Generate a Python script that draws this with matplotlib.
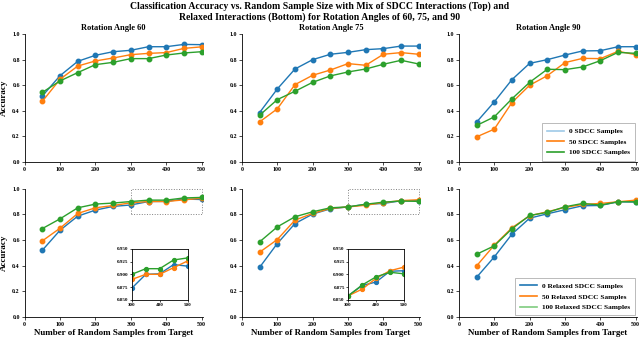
import matplotlib
matplotlib.use("Agg")
import matplotlib.pyplot as plt
from matplotlib.patches import Rectangle
from matplotlib.lines import Line2D

plt.rcParams['font.family'] = ['Liberation Serif', 'DejaVu Serif']
plt.rcParams['font.weight'] = 'bold'

x = [50, 100, 150, 200, 250, 300, 350, 400, 450, 500]
angles = ["60", "75", "90"]

# Top row: mix of SDCC interactions
top_0 = {
    "60": [0.517, 0.675, 0.787, 0.834, 0.862, 0.873, 0.901, 0.901, 0.919, 0.917],
    "75": [0.387, 0.571, 0.727, 0.800, 0.842, 0.857, 0.878, 0.886, 0.906, 0.906],
    "90": [0.312, 0.470, 0.644, 0.771, 0.800, 0.836, 0.868, 0.870, 0.901, 0.901],
}
top_50 = {
    "60": [0.475, 0.647, 0.750, 0.790, 0.813, 0.839, 0.849, 0.855, 0.888, 0.900],
    "75": [0.314, 0.416, 0.605, 0.678, 0.719, 0.769, 0.756, 0.842, 0.855, 0.842],
    "90": [0.197, 0.257, 0.465, 0.600, 0.675, 0.777, 0.810, 0.808, 0.865, 0.839],
}
top_100 = {
    "60": [0.545, 0.634, 0.699, 0.761, 0.779, 0.808, 0.808, 0.836, 0.852, 0.862],
    "75": [0.366, 0.488, 0.553, 0.623, 0.673, 0.704, 0.727, 0.764, 0.795, 0.766],
    "90": [0.286, 0.353, 0.494, 0.623, 0.725, 0.722, 0.743, 0.792, 0.857, 0.849],
}
# Bottom row: relaxed interactions
bot_0 = {
    "60": [0.520, 0.676, 0.786, 0.833, 0.862, 0.873, 0.900, 0.901, 0.919, 0.916],
    "75": [0.386, 0.572, 0.728, 0.802, 0.843, 0.858, 0.878, 0.885, 0.906, 0.907],
    "90": [0.308, 0.467, 0.645, 0.770, 0.804, 0.836, 0.867, 0.869, 0.898, 0.896],
}
bot_50 = {
    "60": [0.593, 0.692, 0.807, 0.851, 0.869, 0.890, 0.900, 0.900, 0.913, 0.926],
    "75": [0.504, 0.603, 0.755, 0.807, 0.846, 0.858, 0.871, 0.892, 0.907, 0.914],
    "90": [0.397, 0.559, 0.695, 0.789, 0.820, 0.854, 0.877, 0.885, 0.898, 0.911],
}
bot_100 = {
    "60": [0.689, 0.765, 0.851, 0.880, 0.888, 0.900, 0.911, 0.911, 0.928, 0.932],
    "75": [0.585, 0.702, 0.781, 0.820, 0.851, 0.858, 0.879, 0.895, 0.904, 0.901],
    "90": [0.488, 0.554, 0.687, 0.791, 0.815, 0.859, 0.885, 0.872, 0.898, 0.898],
}

top_labels = ["0 SDCC Samples", "50 SDCC Samples", "100 SDCC Samples"]
bot_labels = ["0 Relaxed SDCC Samples", "50 Relaxed SDCC Samples", "100 Relaxed SDCC Samples"]
colors = ["#1f77b4", "#ff7f0e", "#2ca02c"]
top_leg_colors = ["#9ec9e8", "#ff7f0e", "#2ca02c"]
bot_leg_colors = ["#1f77b4", "#ff7f0e", "#7fcc7f"]

fig = plt.figure(figsize=(6.4, 3.37), dpi=100)
fig.suptitle("Classification Accuracy vs. Random Sample Size with Mix of SDCC Interactions (Top) and\n"
             "Relaxed Interactions (Bottom) for Rotation Angles of 60, 75, and 90",
             fontsize=7, fontweight='bold', y=0.995, linespacing=1.1)

lefts = [0.0386, 0.378, 0.717]
width = 0.278
top_b, bot_b, h = 0.519, 0.060, 0.380
inset_lefts = [0.206, 0.544]

def style(ax):
    ax.spines['top'].set_visible(False)
    ax.spines['right'].set_visible(False)
    ax.set_xlim(0, 503)
    ax.set_ylim(0, 1.0)
    ax.set_xticks([0, 100, 200, 300, 400, 500])
    ax.set_yticks([0.0, 0.2, 0.4, 0.6, 0.8, 1.0])
    ax.tick_params(labelsize=4.3, length=2, width=0.5, pad=1.5)
    for lab in ax.get_xticklabels() + ax.get_yticklabels():
        lab.set_fontweight('bold')
    for s in ax.spines.values():
        s.set_linewidth(0.6)

def add_legend(ax, labels, lcolors):
    handles = [Line2D([], [], color=c, lw=1.2) for c in lcolors]
    leg = ax.legend(handles, labels, loc='lower right', prop={'weight': 'bold', 'size': 5.3},
                    handlelength=2.3, borderpad=0.7, labelspacing=0.6, handletextpad=0.7,
                    borderaxespad=0.2, fancybox=False)
    leg.get_frame().set_linewidth(0.5)
    leg.get_frame().set_edgecolor('#888888')

for i, a in enumerate(angles):
    ax = fig.add_axes([lefts[i], top_b, width, h])
    for ser, c, lab in zip([top_0[a], top_50[a], top_100[a]], colors, top_labels):
        ax.plot(x, ser, '-o', color=c, lw=1, ms=3.2, label=lab)
    style(ax)
    ax.set_title("Rotation Angle " + a, fontsize=6, fontweight='bold', pad=3)
    if i == 0:
        ax.set_ylabel("Accuracy", fontsize=6.5, fontweight='bold', labelpad=3)
    if i == 2:
        add_legend(ax, top_labels, top_leg_colors)

    axb = fig.add_axes([lefts[i], bot_b, width, h])
    for ser, c, lab in zip([bot_0[a], bot_50[a], bot_100[a]], colors, bot_labels):
        axb.plot(x, ser, '-o', color=c, lw=1, ms=3.2, label=lab)
    style(axb)
    axb.set_xlabel("Number of Random Samples from Target", fontsize=6.5, fontweight='bold', labelpad=2)
    if i == 0:
        axb.set_ylabel("Accuracy", fontsize=6.5, fontweight='bold', labelpad=3)
    if i == 2:
        add_legend(axb, bot_labels, bot_leg_colors)
    if i < 2:
        rect = Rectangle((300, 0.8), 200, 0.2, fill=False, ls=':', lw=0.7,
                         edgecolor='gray', clip_on=False)
        axb.add_patch(rect)
        ins = fig.add_axes([inset_lefts[i], 0.110, 0.087, 0.152])
        for ser, c in zip([bot_0[a], bot_50[a], bot_100[a]], colors):
            ins.plot(x, ser, '-o', color=c, lw=1, ms=2.8)
        ins.set_xlim(300, 500)
        ins.set_ylim(0.85, 0.95)
        ins.set_xticks([300, 400, 500])
        ins.set_yticks([0.850, 0.875, 0.900, 0.925, 0.950])
        ins.set_yticklabels(["0.850", "0.875", "0.900", "0.925", "0.950"])
        ins.tick_params(labelsize=3.6, length=1.5, width=0.5, pad=1)
        for lab in ins.get_xticklabels() + ins.get_yticklabels():
            lab.set_fontweight('bold')
        for s in ins.spines.values():
            s.set_linewidth(0.6)

fig.savefig("out.png", dpi=100)
